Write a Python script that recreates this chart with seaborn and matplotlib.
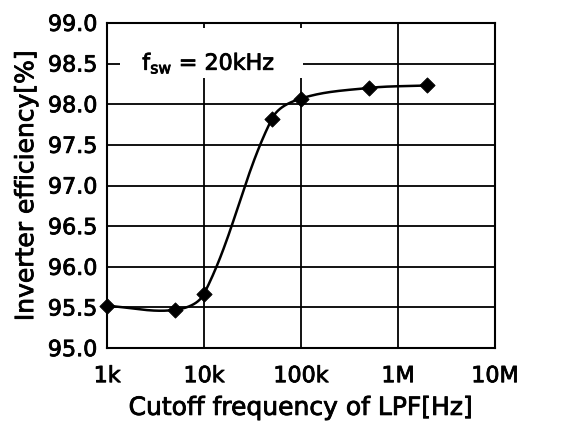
import numpy as np
import pandas as pd
import matplotlib
matplotlib.use("Agg")
import matplotlib.pyplot as plt
import matplotlib.patheffects as pe
from matplotlib.patches import Rectangle
import seaborn as sns

# 데이터
cutoff_hz = [1e3, 5e3, 1e4, 5e4, 1e5, 5e5, 2e6]
efficiency = [95.52, 95.47, 95.67, 97.82, 98.07, 98.20, 98.23]
x_ticks = [1e3, 1e4, 1e5, 1e6, 1e7]
x_tick_labels = ["1k", "10k", "100k", "1M", "10M"]
y_ticks = [95.0, 95.5, 96.0, 96.5, 97.0, 97.5, 98.0, 98.5, 99.0]

sns.set_style("white")
plt.rcParams['font.family'] = ['DejaVu Sans']
plt.rcParams['mathtext.fontset'] = 'dejavusans'
plt.rcParams['text.color'] = 'black'
plt.rcParams['axes.labelcolor'] = 'black'
plt.rcParams['xtick.color'] = 'black'
plt.rcParams['ytick.color'] = 'black'

fig, ax = plt.subplots(figsize=(5.67, 4.24), dpi=100)
fig.subplots_adjust(left=0.189, right=0.873, top=0.946, bottom=0.179)

W, H = 388, 325  # 축 영역 픽셀 크기


# 부드러운 곡선 (화면 좌표에서 베지어, 구간 길이에 맞춘 접선)
def smooth(xs, ys, n=40):
    u = (np.log10(xs) - 3) / 4 * W
    v = (np.array(ys) - 95) / 4 * H
    P = np.column_stack([u, v])
    m = len(P)
    D = []
    for i in range(m):
        a = P[max(i - 1, 0)]
        b = P[min(i + 1, m - 1)]
        d = b - a
        D.append(d / np.linalg.norm(d))
    out = []
    for i in range(m - 1):
        p1, p2 = P[i], P[i + 1]
        L = np.linalg.norm(p2 - p1)
        c1 = p1 + D[i] * L * 0.35
        c2 = p2 - D[i + 1] * L * 0.35
        t = np.linspace(0, 1, n)[:, None]
        seg = ((1 - t) ** 3) * p1 + 3 * ((1 - t) ** 2) * t * c1 + 3 * (1 - t) * t ** 2 * c2 + t ** 3 * p2
        out.append(seg)
    out = np.vstack(out)
    return 10 ** (out[:, 0] / W * 4 + 3), out[:, 1] / H * 4 + 95


sx, sy = smooth(cutoff_hz, efficiency)
curve = pd.DataFrame({"f": sx, "eff": sy})
pts = pd.DataFrame({"f": cutoff_hz, "eff": efficiency})

sns.lineplot(data=curve, x="f", y="eff", ax=ax, color="black", lw=1.8, sort=False, zorder=3)
sns.scatterplot(data=pts, x="f", y="eff", ax=ax, color="black", marker="D", s=60,
                edgecolor="black", zorder=4, clip_on=False)

ax.set_xscale("log")
ax.set_xlim(1e3, 1e7)
ax.set_ylim(95, 99)
ax.set_xticks(x_ticks)
ax.set_xticklabels(x_tick_labels)
ax.set_yticks(y_ticks)
ax.set_yticklabels([f"{v:.1f}" for v in y_ticks])
ax.minorticks_off()
ax.tick_params(length=0, labelsize=16)
ax.tick_params(axis="x", pad=13)
ax.tick_params(axis="y", pad=7)
ax.grid(True, color="black", lw=1.3)
for s in ax.spines.values():
    s.set_color("black")
    s.set_linewidth(1.5)

ax.set_xlabel("Cutoff frequency of LPF[Hz]", fontsize=18, labelpad=7)
ax.set_ylabel("Inverter efficiency[%]", fontsize=18, labelpad=7)

# 주석 배경 (흰 상자)
ax.add_patch(Rectangle((0.034, 0.831), 0.471, 0.154, transform=ax.transAxes,
                       facecolor="white", edgecolor="none", zorder=2.5))
ax.text(2.3e3, 98.5, r"f$_{\mathregular{sw}}$ = 20kHz", fontsize=16, va="center", ha="left", zorder=5)

# 글자를 조금 굵게
thick = [pe.withStroke(linewidth=0.6, foreground="black")]
for t in ax.get_xticklabels() + ax.get_yticklabels() + [ax.xaxis.label, ax.yaxis.label] + ax.texts:
    t.set_path_effects(thick)

plt.savefig("out.png", dpi=100)
